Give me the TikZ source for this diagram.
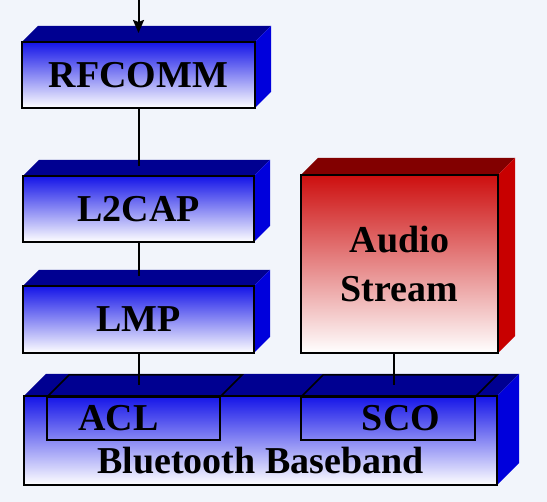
\documentclass[tikz,border=0pt]{standalone}
\usepackage{fontspec}
\setmainfont{Liberation Serif}
\usepackage{tikz}
\usetikzlibrary{positioning,arrows.meta,backgrounds,calc}

\definecolor{paper}{RGB}{242,245,251}
\definecolor{bluefront}{RGB}{20,20,232}
\definecolor{bluetop}{RGB}{0,0,145}
\definecolor{blueside}{RGB}{0,0,220}
\definecolor{redfront}{RGB}{205,15,15}
\definecolor{redtop}{RGB}{130,0,0}
\definecolor{redside}{RGB}{200,0,0}

\tikzset{
    layer/.style={draw, line width=2pt, inner sep=0pt, outer sep=0pt,
        font=\bfseries\fontsize{38}{49}\selectfont, align=center,
        top color=bluefront, middle color=bluefront!18, bottom color=white},
    audiolayer/.style={layer, top color=redfront, middle color=redfront!35, bottom color=white},
    channel/.style={draw, line width=1.5pt, inner sep=0pt, outer sep=0pt,
        font=\bfseries\fontsize{38}{49}\selectfont},
    link/.style={line width=2pt}
}

\begin{document}
\begin{tikzpicture}[x=1pt, y=-1pt]
            \useasboundingbox (0,0) rectangle (547,502);
            \begin{pgfonlayer}{background}
                \fill [paper] (0,0) rectangle (547,502);
            \end{pgfonlayer}

            \node [layer, minimum width=233pt, minimum height=66pt] (rfcomm) at (138.5,75) {RFCOMM};
            \node [layer, minimum width=231pt, minimum height=66pt, below=68pt of rfcomm] (l2cap) {L2CAP};
            \node [layer, minimum width=231pt, minimum height=67pt, below=44pt of l2cap] (lmp) {LMP};
            \node [audiolayer, minimum width=197pt, minimum height=178pt] (audio) at (399.5,264) {Audio\\Stream};
            \node [layer, minimum width=473pt, minimum height=89pt] (baseband) at (260.5,440.5) {};
            \node [font=\bfseries\fontsize{38}{49}\selectfont] (bbname) at ([yshift=24pt]baseband.south) {Bluetooth Baseband};

            \node [channel, minimum width=173pt, minimum height=43pt] (acl) at (133.5,418.5) {ACL\hspace*{30pt}};
            \node [channel, minimum width=174pt, minimum height=43pt] (sco) at (388,418.5) {\hspace*{26pt}SCO};

            % sides of the blocks
            \begin{pgfonlayer}{background}
                \foreach \n/\tc/\sc/\d in {rfcomm/bluetop/blueside/16, l2cap/bluetop/blueside/16,
                        lmp/bluetop/blueside/16, audio/redtop/redside/17, baseband/bluetop/blueside/22} {
                    \fill [\tc] (\n.north west) -- ++(\d,-\d) -- ([shift={(\d,-\d)}]\n.north east) -- (\n.north east) -- cycle;
                    \fill [\sc] (\n.north east) -- ++(\d,-\d) -- ([shift={(\d,-\d)}]\n.south east) -- (\n.south east) -- cycle;
                }
            \end{pgfonlayer}
            \foreach \n in {acl, sco}
                \draw [line width=1.5pt] (\n.north west) -- ++(22,-22) -- ([shift={(22,-22)}]\n.north east) -- (\n.north east);

            \coordinate (top) at (138.5,0);
            \draw [link, -{Stealth[length=13pt, width=11pt, inset=2pt]}] (top) -- ([yshift=9pt]rfcomm.north);
            \draw [link] (rfcomm.south) -- ([yshift=10pt]l2cap.north);
            \draw [link] (l2cap.south) -- ([yshift=10pt]lmp.north);
            \draw [link] (lmp.south) -- ($(lmp.south |- acl.north)+(0,-12)$);
            \draw [link] ($(audio.south)+(-6,0)$) -- ($(audio.south |- sco.north)+(-6,-12)$);
        \end{tikzpicture}
\end{document}
